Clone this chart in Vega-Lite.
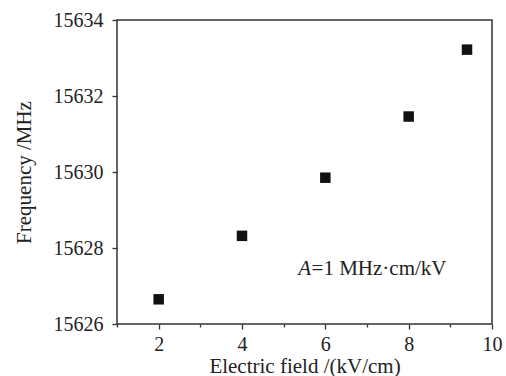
{
  "$schema": "https://vega.github.io/schema/vega-lite/v6.json",
  "autosize": {"type": "none"},
  "width": 375,
  "height": 304,
  "padding": {"left": 117, "top": 20, "right": 14, "bottom": 52},
  "background": "white",
  "config": {
    "view": {"stroke": "#333333", "strokeWidth": 1.5},
    "font": "Liberation Serif",
    "axis": {
      "domain": false,
      "grid": false,
      "labelFont": "Liberation Serif",
      "labelFontSize": 20,
      "labelColor": "#222222",
      "labelOverlap": false,
      "labelBound": false,
      "labelFlush": false,
      "tickColor": "#333333",
      "tickWidth": 1.3,
      "titleFont": "Liberation Serif",
      "titleFontSize": 21,
      "titleFontWeight": "normal",
      "titleColor": "#222222"
    }
  },
  "layer": [
    {
      "data": {
        "values": [
          {"field_kv_cm": 2, "freq_mhz": 15626.65},
          {"field_kv_cm": 4, "freq_mhz": 15628.32},
          {"field_kv_cm": 6, "freq_mhz": 15629.85},
          {"field_kv_cm": 8, "freq_mhz": 15631.46},
          {"field_kv_cm": 9.4, "freq_mhz": 15633.22}
        ]
      },
      "mark": {"type": "point", "shape": "square", "filled": true, "size": 110, "color": "#111111", "opacity": 1},
      "encoding": {
        "x": {
          "field": "field_kv_cm",
          "type": "quantitative",
          "scale": {"domain": [1, 10], "nice": false, "zero": false},
          "axis": {
            "title": "Electric field /(kV/cm)",
            "values": [1, 2, 3, 4, 5, 6, 7, 8, 9, 10],
            "labelExpr": "datum.value % 2 === 0 ? datum.label : ''",
            "tickSize": {"condition": {"test": "datum.value % 2 === 0", "value": 5}, "value": 3},
            "labelPadding": 5,
            "titlePadding": 1
          }
        },
        "y": {
          "field": "freq_mhz",
          "type": "quantitative",
          "scale": {"domain": [15626, 15634], "nice": false, "zero": false},
          "axis": {
            "title": "Frequency /MHz",
            "format": "d",
            "values": [15626, 15627, 15628, 15629, 15630, 15631, 15632, 15633, 15634],
            "labelExpr": "datum.value % 2 === 0 ? datum.label : ''",
            "tickSize": {"condition": {"test": "datum.value % 2 === 0", "value": 5}, "value": 3},
            "labelPadding": 9,
            "titlePadding": 19
          }
        }
      }
    },
    {
      "data": {"values": [{"x": 5.35, "y": 15627.3, "t": "A"}]},
      "mark": {"type": "text", "align": "left", "baseline": "alphabetic", "font": "Liberation Serif", "fontSize": 21, "fontStyle": "italic", "color": "#222222"},
      "encoding": {
        "x": {"field": "x", "type": "quantitative"},
        "y": {"field": "y", "type": "quantitative"},
        "text": {"field": "t"}
      }
    },
    {
      "data": {"values": [{"x": 5.67, "y": 15627.3, "t": "=1 MHz·cm/kV"}]},
      "mark": {"type": "text", "align": "left", "baseline": "alphabetic", "font": "Liberation Serif", "fontSize": 21, "color": "#222222"},
      "encoding": {
        "x": {"field": "x", "type": "quantitative"},
        "y": {"field": "y", "type": "quantitative"},
        "text": {"field": "t"}
      }
    }
  ]
}
